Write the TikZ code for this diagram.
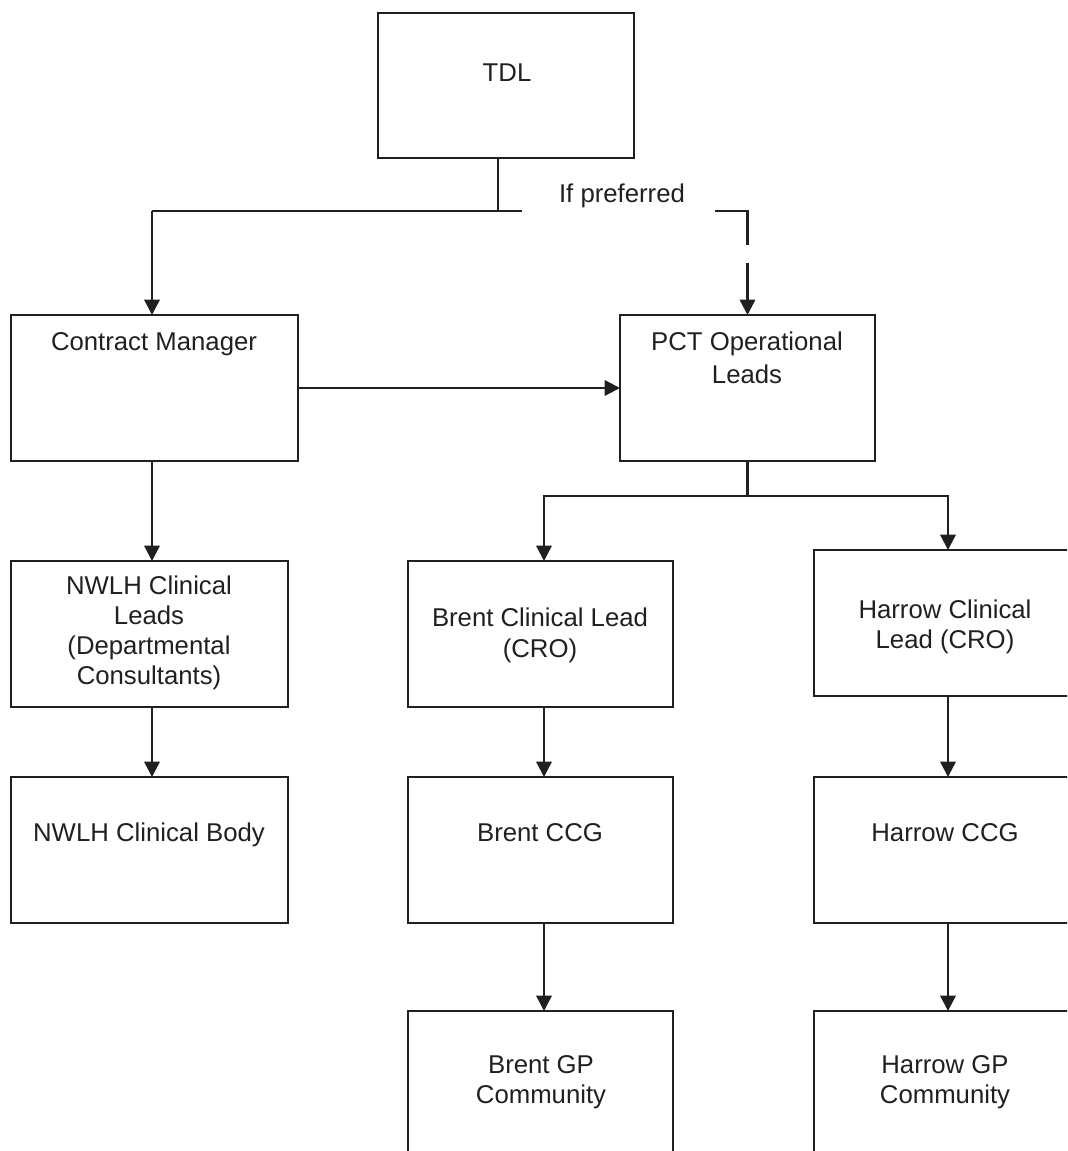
\documentclass[tikz,border=0pt]{standalone}
\usepackage{fontspec}
\setmainfont{Liberation Sans}
\usetikzlibrary{arrows.meta,calc}
\definecolor{ink}{RGB}{35,31,32}
\begin{document}
\begin{tikzpicture}[x=0.75pt,y=-0.75pt,
  box/.style={draw=ink, line width=1.8pt, inner sep=0pt, outer sep=0pt},
  sz/.style 2 args={minimum width=#1*0.75pt, minimum height=#2*0.75pt},
  lbl/.style={text=ink, font=\fontsize{19.3}{22.5}\selectfont, align=center, anchor=base, inner sep=0pt},
  conn/.style={draw=ink, line width=1.8pt},
  arr/.style={conn, -{Triangle[length=11.5pt,width=11.5pt]}}]
\useasboundingbox (0,0) rectangle (1067,1151);
\clip (0,0) rectangle (1067,1151);

% boxes
\node[box, sz={256}{145}] (tdl)  at (506,85.5) {};
\node[box, sz={287}{146}] (cm)   at (154.5,388) {};
\node[box, sz={255}{146}] (pct)  at (747.5,388) {};
\node[box, sz={277}{146}] (nl)   at (149.5,634) {};
\node[box, sz={265}{146}] (bcl)  at (540.5,634) {};
\node[box, sz={268}{146}] (hcl)  at (948,623) {};
\node[box, sz={277}{146}] (nb)   at (149.5,850) {};
\node[box, sz={265}{146}] (bccg) at (540.5,850) {};
\node[box, sz={268}{146}] (hccg) at (948,850) {};
\node[box, sz={265}{146}] (bgp)  at (540.5,1084) {};
\node[box, sz={268}{146}] (hgp)  at (948,1084) {};

% texts (anchor = baseline of the last line)
\node[lbl] (tdlt)  at (507,82) {TDL};
\node[lbl] (cmt)   at (154,350) {Contract Manager};
\node[lbl, font=\fontsize{19.3}{24.5}\selectfont] (pctt) at (747,383) {PCT Operational\\Leads};
\node[lbl, font=\fontsize{19.3}{22.3}\selectfont] (nlt) at (149,684) {NWLH Clinical\\Leads\\(Departmental\\Consultants)};
\node[lbl, font=\fontsize{19.3}{23}\selectfont] (bclt) at (540,657) {Brent Clinical Lead\\(CRO)};
\node[lbl] (hclt)  at (945,648) {Harrow Clinical\\Lead (CRO)};
\node[lbl] (nbt)   at (149,841) {NWLH Clinical Body};
\node[lbl] (bccgt) at (540,841) {Brent CCG};
\node[lbl] (hccgt) at (945,841) {Harrow CCG};
\node[lbl, font=\fontsize{19.3}{22}\selectfont] (bgpt) at (541,1103) {Brent GP\\Community};
\node[lbl, font=\fontsize{19.3}{22}\selectfont] (hgpt) at (945,1103) {Harrow GP\\Community};
\node[lbl] (pref)  at (622,203) {If preferred};

% connector points
\coordinate (jl) at (152,211);
\coordinate (jm) at (498,211);
\coordinate (jr) at (522,211);
\coordinate (dl) at (715,211);
\coordinate (dc) at (747.5,211);
\coordinate (de) at (747.5,245);
\coordinate (ds) at (747.5,263);
\coordinate (bus) at (747.5,496);
\coordinate (bx) at (544,0);

% connectors
\draw[conn] (tdl.south -| jm) -- (jm);
\draw[conn] (jr) -- (jl);
\draw[arr] (jl) -- (cm.north -| jl);
\draw[conn] (dl) -- (dc) -- (de);
\draw[arr] (ds) -- (pct.north);
\draw[arr] (cm.east) -- (pct.west);
\draw[arr] (cm.south -| jl) -- (nl.north -| jl);
\draw[arr] (nl.south -| jl) -- (nb.north -| jl);
\draw[conn] (pct.south) -- (bus);
\draw[arr] (bus) -| (bcl.north -| bx);
\draw[arr] (bus) -| (hcl.north);
\draw[arr] (bcl.south -| bx) -- (bccg.north -| bx);
\draw[arr] (bccg.south -| bx) -- (bgp.north -| bx);
\draw[arr] (hcl.south) -- (hccg.north);
\draw[arr] (hccg.south) -- (hgp.north);
\end{tikzpicture}
\end{document}
